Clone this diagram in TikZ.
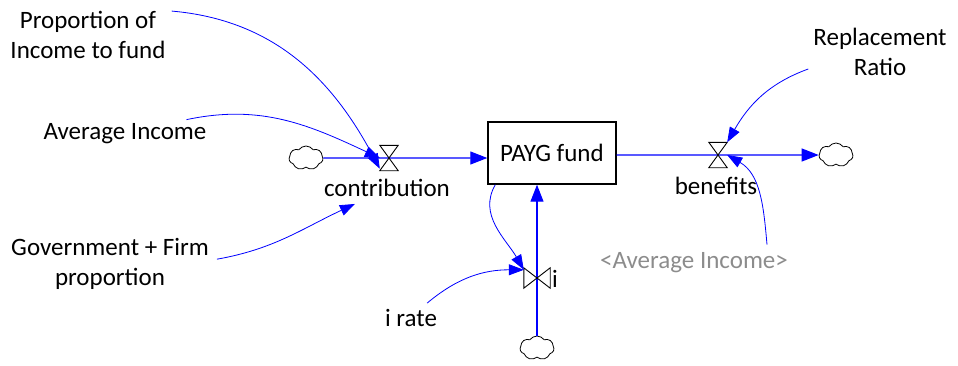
\documentclass[tikz,border=0pt]{standalone}
\usepackage{fontspec}
\setmainfont{Carlito}
\usetikzlibrary{arrows.meta,shapes.symbols}
\begin{document}
\begin{tikzpicture}[x=1pt,y=1pt,
  every node/.style={font=\fontsize{25}{30}\selectfont},
  varname/.style={align=center, inner sep=2pt},
  stockbox/.style={draw, line width=1.4pt, minimum width=128pt, minimum height=62pt},
  valve/.style={minimum width=18pt, minimum height=25pt, inner sep=0pt},
  cloudy/.style={cloud, draw, cloud puffs=7, cloud puff arc=110, aspect=1.5, minimum width=34pt, minimum height=24pt, inner sep=0pt, line width=0.8pt},
  flow/.style={blue, line width=1.1pt, -{Triangle[length=17pt,width=13pt]}},
  conn/.style={blue, line width=0.8pt, -{Triangle[length=15pt,width=11pt]}}]
\useasboundingbox (0,0) rectangle (958,365);
\node[stockbox] (stock) at (552,212) {PAYG fund};
\node[cloudy] (cl) at (306,207) {};
\node[cloudy] (cr) at (836,210) {};
\node[cloudy] (cb) at (537,17) {};
\node[valve] (vc) at (389,207) {};
\node[valve] (vb) at (718,210) {};
\node[valve, minimum width=26pt, minimum height=20pt] (vi) at (537,87) {};
\node[varname] (lc) at (387,177) {contribution};
\node[varname] (lb) at (716,179) {benefits};
\node[varname] (li) at (555,86) {i};
\node[varname] (prop) at (88,330) {Proportion of\\Income to fund};
\node[varname] (avg) at (125,231) {Average Income};
\node[varname] (gov) at (110,101) {Government + Firm\\proportion};
\node[varname] (rr) at (880,313) {Replacement\\Ratio};
\node[varname, text=black!45] (aig) at (694,102) {<Average Income>};
\node[varname] (ir) at (411,47) {i rate};
\draw[flow] (cl) -- (stock.west |- cl);
\draw[flow] (stock.east |- vb) -- (cr);
\draw[flow] (cb) -- (cb |- stock.south);
\foreach \v in {vc,vb}
  \draw[line width=0.9pt] (\v.north west) -- (\v.north east) -- (\v.south west) -- (\v.south east) -- cycle;
\draw[line width=0.9pt] (vi.north west) -- (vi.south west) -- (vi.north east) -- (vi.south east) -- cycle;
\draw[conn] ([xshift=4pt,yshift=-2pt]prop.north east) to[out=-5,in=118] ([yshift=2pt]vc.south west);
\draw[conn] ([xshift=-22pt,yshift=2pt]avg.north east) to[out=12,in=155] (vc.west);
\draw[conn] ([xshift=6pt,yshift=-23pt]gov.north east) to[out=10,in=205] ([xshift=33pt,yshift=-5pt]lc.south west);
\draw[conn] ([xshift=-3pt,yshift=-17pt]rr.west) to[out=200,in=60] (vb.north east);
\draw[conn] ([xshift=-23pt,yshift=6pt]aig.north east) to[out=95,in=-30] (vb.east);
\draw[conn] ([xshift=-12pt,yshift=4pt]ir.north east) to[out=40,in=180] ([yshift=-2pt]vi.north west);
\draw[conn] ([xshift=8pt]stock.south west) to[out=240,in=120] ([yshift=-2pt]vi.north west);
\end{tikzpicture}
\end{document}
